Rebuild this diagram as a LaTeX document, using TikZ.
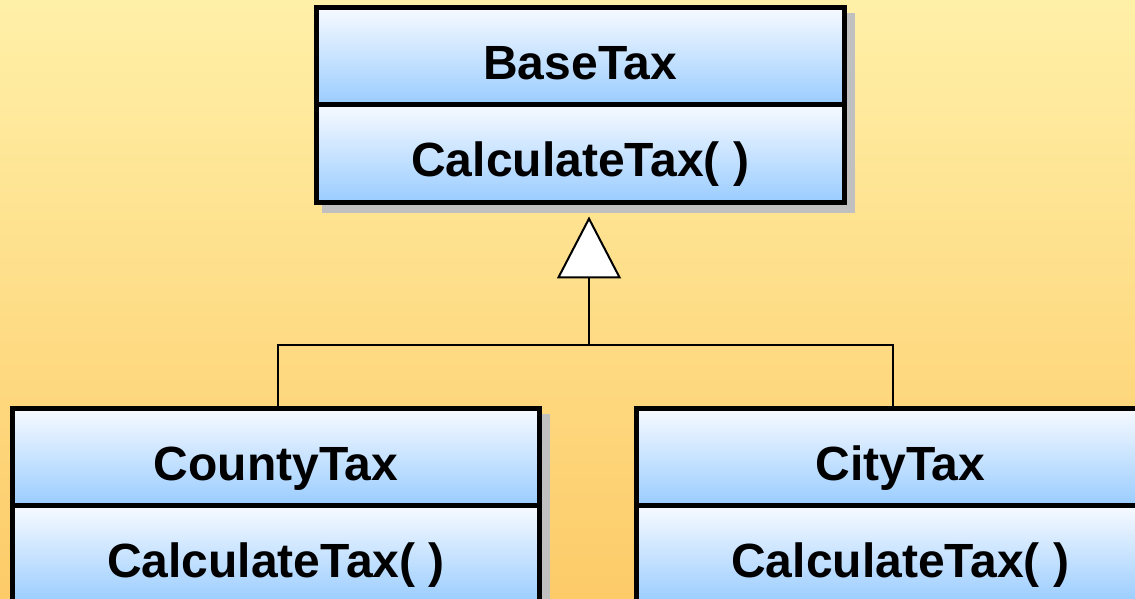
\documentclass[tikz,border=0pt]{standalone}
\usepackage{fontspec}
\setmainfont{Liberation Sans}
\usepackage{tikz}
\usetikzlibrary{arrows.meta,positioning,shadows}
\definecolor{bgtop}{HTML}{FFF0A8}
\definecolor{bgbot}{HTML}{FDCB68}
\definecolor{clstop}{HTML}{F7FAFF}
\definecolor{clsbot}{HTML}{99CCFF}
\definecolor{shadowgray}{HTML}{C0C0C0}

\begin{document}
\begin{tikzpicture}[
  x=0.5pt, y=0.5pt,
  part/.style = {draw=black, line width=2.5pt, top color=clstop, bottom color=clsbot,
                 minimum width=263.75pt, minimum height=48.75pt,
                 inner sep=0pt, outer sep=0pt, text height=23pt, text depth=0pt,
                 font=\fontsize{24pt}{28pt}\bfseries\selectfont,
                 drop shadow={shadow xshift=4pt, shadow yshift=-4pt, opacity=1,
                              fill=shadowgray, draw=shadowgray, line width=2.5pt}},
  conn/.style = {line width=1pt, draw=black},
  gen/.style  = {conn, -{Triangle[length=31pt,width=32pt,fill=white]}},
  node distance = 0pt,
]
\useasboundingbox (0,0) rectangle (1135,599);
\clip (0,0) rectangle (1135,599);
\fill[top color=bgtop, bottom color=bgbot] (0,0) rectangle (1135,599);

% base class
\node[part] (base) at (580.25,542.75) {BaseTax};
\node[part, below=of base] (baseop) {CalculateTax( )};
% subclasses
\node[part] (county) at (276,141.75) {CountyTax};
\node[part, below=of county] (countyop) {CalculateTax( )};
\node[part] (city) at (900.25,141.75) {CityTax};
\node[part, below=of city] (cityop) {CalculateTax( )};

% generalization
\coordinate (joint) at (589,253.5);
\coordinate (apex) at (589,382.5);
\draw[conn] ([xshift=0.75pt]county.north) |- (joint) -| ([xshift=-3.6pt]city.north);
\draw[gen] (joint) -- (apex);
\end{tikzpicture}
\end{document}
